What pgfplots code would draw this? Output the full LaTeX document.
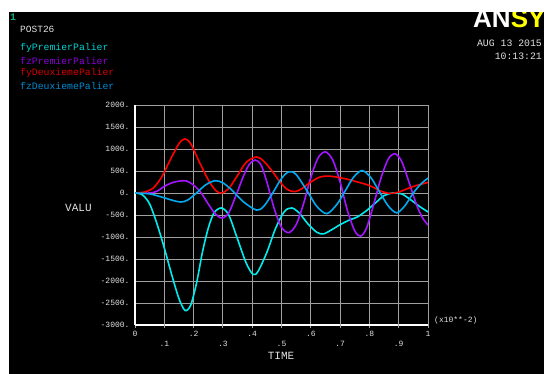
\documentclass[border=0pt]{standalone}
\usepackage{fontspec}
\setmainfont{Liberation Mono}
\newfontfamily\logofont{Liberation Sans}
\usepackage{pgfplots}
\pgfplotsset{compat=1.18}
\definecolor{cfyP}{RGB}{0,235,235}
\definecolor{cfzP}{RGB}{165,20,255}
\definecolor{cfyD}{RGB}{255,0,0}
\definecolor{cfzD}{RGB}{0,170,240}
\definecolor{tfyP}{RGB}{0,210,210}
\definecolor{tfzP}{RGB}{140,0,215}
\definecolor{tfyD}{RGB}{215,0,0}
\definecolor{tfzD}{RGB}{0,140,210}
\definecolor{gridc}{RGB}{160,160,160}
\definecolor{labc}{RGB}{225,225,225}
\definecolor{onec}{RGB}{20,170,130}
\definecolor{logoy}{RGB}{255,255,0}
\begin{document}
\begin{tikzpicture}[x=1pt,y=1pt]
\useasboundingbox (0,0) rectangle (544,374);
\clip (0,0) rectangle (544,374);
\fill[black] (0,0) rectangle (544,374);
\begin{axis}[
  at={(135pt,49pt)}, anchor=south west,
  scale only axis, width=293pt, height=220pt,
  xmin=0, xmax=1, ymin=-3000, ymax=2000,
  axis lines*=left,
  axis line style={white, line width=1.8pt, -},
  grid=major,
  major grid style={gridc, line width=0.9pt},
  xtick={0,0.2,0.4,0.6,0.8,1},
  xticklabels={0,.2,.4,.6,.8,1},
  extra x ticks={0.1,0.3,0.5,0.7,0.9},
  extra x tick labels={.1,.3,.5,.7,.9},
  extra x tick style={grid=major, xticklabel style={yshift=-10pt}},
  tick align=outside,
  major tick length=3pt,
  x tick style={gridc, line width=0.9pt},
  ytick={-3000,-2500,...,2000},
  yticklabels={-3000.,-2500.,-2000.,-1500.,-1000.,-500.,0.,500.,1000.,1500.,2000.},
  y tick style={draw=none},
  tick label style={font=\fontsize{8}{8}\selectfont, text=labc},
  xticklabel style={yshift=0pt},
  yticklabel style={xshift=1pt},
  every axis plot/.append style={line width=1.6pt, smooth, no markers},
]
% fyPremierPalier
\addplot[cfyP] coordinates {
(0,0) (0.025,-40) (0.05,-250) (0.075,-700) (0.1,-1250) (0.125,-1850) (0.15,-2400)
(0.171,-2670) (0.19,-2550) (0.21,-2050) (0.23,-1350) (0.25,-800) (0.27,-450)
(0.295,-340) (0.32,-500) (0.35,-1050) (0.38,-1600) (0.403,-1850) (0.42,-1780)
(0.45,-1350) (0.48,-800) (0.51,-420) (0.535,-340) (0.56,-450) (0.59,-700)
(0.62,-890) (0.643,-930) (0.67,-840) (0.7,-720) (0.73,-620) (0.76,-540)
(0.79,-400) (0.82,-230) (0.85,-60) (0.88,0) (0.91,-20) (0.94,-150) (0.97,-300) (1.0,-430)
};
% fzPremierPalier
\addplot[cfzP] coordinates {
(0,0) (0.05,0) (0.075,40) (0.1,150) (0.125,230) (0.15,270) (0.175,275) (0.2,180)
(0.226,0) (0.25,-250) (0.275,-480) (0.298,-570) (0.32,-450) (0.345,-50) (0.37,380)
(0.39,650) (0.41,750) (0.43,640) (0.45,250) (0.475,-350) (0.5,-780) (0.525,-900)
(0.55,-720) (0.575,-250) (0.6,350) (0.625,800) (0.65,935) (0.675,750) (0.7,250)
(0.725,-400) (0.75,-860) (0.77,-980) (0.79,-800) (0.815,-250) (0.84,350)
(0.865,780) (0.888,890) (0.91,720) (0.935,250) (0.96,-250) (0.98,-550) (1.0,-730)
};
% fyDeuxiemePalier
\addplot[cfyD] coordinates {
(0,0) (0.03,20) (0.06,100) (0.09,350) (0.12,750) (0.15,1120) (0.17,1230) (0.19,1120)
(0.22,700) (0.25,300) (0.275,60) (0.295,0) (0.32,100) (0.35,400) (0.38,700)
(0.415,820) (0.44,720) (0.47,480) (0.495,250) (0.52,80) (0.545,30) (0.57,100)
(0.6,250) (0.63,360) (0.655,385) (0.68,370) (0.72,320) (0.76,250) (0.8,170)
(0.84,40) (0.87,-10) (0.9,20) (0.93,100) (0.96,170) (1.0,240)
};
% fzDeuxiemePalier
\addplot[cfzD] coordinates {
(0,0) (0.05,-20) (0.1,-110) (0.13,-170) (0.157,-205) (0.18,-160) (0.21,0)
(0.24,180) (0.273,280) (0.3,230) (0.33,70) (0.37,-200) (0.415,-390) (0.44,-300)
(0.47,0) (0.5,330) (0.525,480) (0.55,420) (0.59,20) (0.62,-300) (0.655,-470)
(0.69,-250) (0.715,20) (0.745,350) (0.775,510) (0.805,350) (0.835,20) (0.865,-300)
(0.893,-450) (0.92,-300) (0.95,0) (0.975,200) (1.0,340)
};
\end{axis}
% logo
\node[anchor=base west, inner sep=0pt, font=\logofont\bfseries\fontsize{26}{26}\selectfont] at (473,346)
  {\textcolor{white}{AN}\textcolor{logoy}{SYS}};
% white frame
\fill[white] (0,362) rectangle (544,374);
\fill[white] (0,0) rectangle (9,374);
% texts
\node[anchor=west, inner sep=0pt, text=onec, font=\bfseries\fontsize{10}{10}\selectfont] at (10,357) {1};
\node[anchor=west, inner sep=0pt, text=labc, font=\fontsize{9.5}{9.5}\selectfont] at (20,345) {POST26};
\node[anchor=west, inner sep=0pt, text=tfyP, font=\fontsize{9.8}{9.8}\selectfont] at (20,326) {fyPremierPalier};
\node[anchor=west, inner sep=0pt, text=tfzP, font=\fontsize{9.8}{9.8}\selectfont] at (20,313) {fzPremierPalier};
\node[anchor=west, inner sep=0pt, text=tfyD, font=\fontsize{9.8}{9.8}\selectfont] at (20,301) {fyDeuxiemePalier};
\node[anchor=west, inner sep=0pt, text=tfzD, font=\fontsize{9.8}{9.8}\selectfont] at (20,288) {fzDeuxiemePalier};
\node[anchor=east, inner sep=0pt, text=labc, font=\fontsize{9.8}{9.8}\selectfont] at (542,331) {AUG 13 2015};
\node[anchor=east, inner sep=0pt, text=labc, font=\fontsize{9.8}{9.8}\selectfont] at (542,318) {10:13:21};
\node[anchor=west, inner sep=0pt, text=labc, font=\fontsize{11}{11}\selectfont] at (65,166) {VALU};
\node[inner sep=0pt, text=labc, font=\fontsize{11}{11}\selectfont] at (281,18) {TIME};
\node[anchor=west, inner sep=0pt, text=labc, font=\fontsize{8}{8}\selectfont] at (434,54) {(x10**-2)};
\end{tikzpicture}
\end{document}
